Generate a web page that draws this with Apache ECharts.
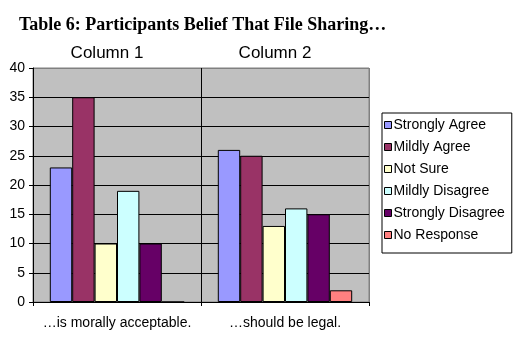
<!DOCTYPE html>
<html><head><meta charset="utf-8">
<script src="https://cdn.jsdelivr.net/npm/echarts@6/dist/echarts.min.js"></script>
<style>html,body{margin:0;padding:0;background:#fff}#c{width:525px;height:342px}</style>
</head><body><div id="c"></div>
<script>
const categories = ['…is morally acceptable.', '…should be legal.'];
const topLabels = ['Column 1', 'Column 2'];
const seriesNames = ['Strongly Agree', 'Mildly Agree', 'Not Sure', 'Mildly Disagree', 'Strongly Disagree', 'No Response'];
const stronglyAgree = [23, 26];
const mildlyAgree = [35, 25];
const notSure = [10, 13];
const mildlyDisagree = [19, 16];
const stronglyDisagree = [10, 15];
const noResponse = [0, 2];
const yTicks = [0, 5, 10, 15, 20, 25, 30, 35, 40];
const colors = ['#9999ff', '#993366', '#ffffcc', '#ccffff', '#660066', '#ff8080'];
const values = [stronglyAgree, mildlyAgree, notSure, mildlyDisagree, stronglyDisagree, noResponse];

const chart = echarts.init(document.getElementById('c'));
chart.setOption({
  animation: false,
  backgroundColor: '#ffffff',
  title: {
    text: 'Table 6: Participants Belief That File Sharing…',
    left: 14, top: 11,
    textStyle: { fontFamily: 'Liberation Serif', fontWeight: 'bold', fontSize: 18, color: '#000' }
  },
  grid: { left: 33, right: 156, top: 68, bottom: 40, show: true, backgroundColor: '#c0c0c0', borderColor: '#808080', borderWidth: 1 },
  legend: {
    orient: 'vertical', left: 382, top: 113,
    padding: [5, 7, 11, 2],
    backgroundColor: '#ffffff', borderColor: '#000', borderWidth: 1,
    itemWidth: 7, itemHeight: 7, itemGap: 8,
    textStyle: { fontFamily: 'Liberation Sans', fontSize: 14, color: '#000', padding: [0, 0, 0, -3] },
    data: seriesNames.map(n => ({ name: n, icon: 'rect', itemStyle: { borderColor: '#000', borderWidth: 1 } }))
  },
  xAxis: [{
    type: 'category', data: categories, position: 'bottom',
    axisLine: { lineStyle: { color: '#000' } },
    axisTick: { show: true, length: 4, lineStyle: { color: '#000' } },
    axisLabel: { fontFamily: 'Liberation Sans', fontSize: 14, color: '#000', margin: 14, interval: 0 },
    splitLine: { show: true, lineStyle: { color: ['#000', '#000', '#808080'] } }
  }, {
    type: 'category', data: topLabels, position: 'top',
    axisLine: { show: false }, axisTick: { show: false },
    axisLabel: { fontFamily: 'Liberation Sans', fontSize: 17, color: '#000', margin: 6, interval: 0, padding: [0, 20, 0, 0] }
  }],
  yAxis: {
    type: 'value', min: 0, max: 40, interval: 5,
    axisLine: { show: true, lineStyle: { color: '#000' } },
    axisTick: { show: true, length: 4, lineStyle: { color: '#000' } },
    axisLabel: { fontFamily: 'Liberation Sans', fontSize: 14, color: '#000', margin: 8,
      formatter: v => yTicks.includes(v) ? String(v) : '' },
    splitLine: { show: true, lineStyle: { color: ['#000','#000','#000','#000','#000','#000','#000','#000','#808080'] } }
  },
  series: seriesNames.map((n, i) => ({
    name: n, type: 'bar', data: values[i], xAxisIndex: 0,
    barGap: '0%', barCategoryGap: '20%',
    itemStyle: { color: colors[i], borderColor: '#000', borderWidth: 1 }
  }))
});
</script></body></html>
